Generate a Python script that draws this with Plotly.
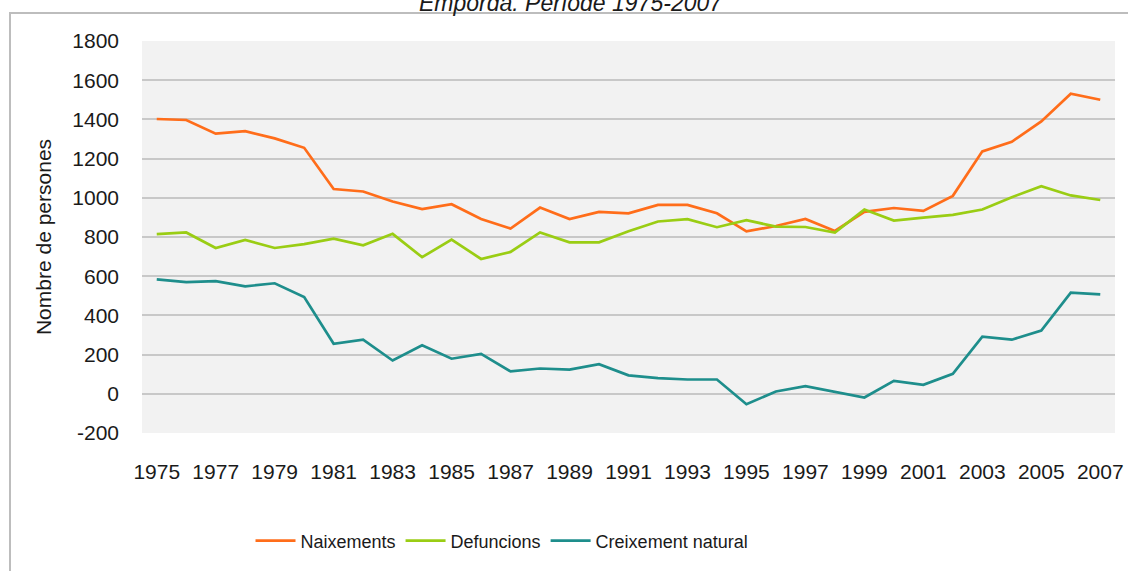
import plotly.graph_objects as go

years = list(range(1975, 2008))
naixements = [1402, 1397, 1327, 1340, 1303, 1255, 1045, 1032, 981, 942, 967, 892, 843,
              950, 892, 928, 921, 964, 964, 921, 829, 856, 892,
              831, 928, 948, 933, 1010, 1237, 1286, 1390, 1531, 1500]
defuncions = [815, 823, 744, 785, 744, 764, 792, 758, 816, 697, 787, 688, 724,
              823, 773, 773, 829, 879, 891, 850, 886, 853, 851,
              823, 940, 884, 899, 913, 940, 1003, 1059, 1012, 989]
creixement = [584, 570, 575, 548, 564, 494, 255, 276, 170, 248, 179, 204, 114,
              129, 123, 151, 94, 80, 73, 73, -53, 12, 39,
              10, -19, 66, 46, 102, 291, 276, 323, 516, 507]
x_ticks = list(range(1975, 2008, 2))
y_ticks = [-200, 0, 200, 400, 600, 800, 1000, 1200, 1400, 1600, 1800]
y_ticklabels = ["-200", "0", "200", "400", "600", "800", "1000", "1200", "1400", "1600", "1800"]
series_names = ["Naixements", "Defuncions", "Creixement natural"]
colors = ["#FF6D1A", "#9ACD14", "#1E8E8C"]

FONT = "Liberation Sans, Arial, sans-serif"

fig = go.Figure()
for name, vals, col in zip(series_names, [naixements, defuncions, creixement], colors):
    fig.add_trace(go.Scatter(x=years, y=vals, mode="lines", name=name,
                             line=dict(color=col, width=2.7)))

fig.update_layout(
    width=1128, height=571,
    margin=dict(l=142, r=13, t=41, b=138, autoexpand=False),
    paper_bgcolor="white",
    plot_bgcolor="#F2F2F2",
    font=dict(family=FONT, color="#1A1A1A", size=20),
    showlegend=True,
    legend=dict(orientation="h", x=0.37, xanchor="center", y=-0.2755, yanchor="middle",
                font=dict(size=18, family=FONT, color="#1A1A1A"),
                bgcolor="rgba(0,0,0,0)", itemwidth=40),
    xaxis=dict(range=[1974.5, 2007.5], tickvals=x_ticks, showgrid=False, zeroline=False,
               showline=False, ticks="", ticklabelstandoff=24, automargin=False,
               tickfont=dict(size=21, family=FONT, color="#1A1A1A")),
    yaxis=dict(range=[-200, 1800], tickvals=y_ticks, ticktext=y_ticklabels,
               showgrid=True, gridcolor="#C8C8C8",
               gridwidth=1.5, zeroline=False, showline=False, ticks="",
               ticklabelstandoff=22, automargin=False,
               tickfont=dict(size=21, family=FONT, color="#1A1A1A"),
               title=dict(text="Nombre de persones", standoff=14,
                          font=dict(size=21, family=FONT, color="#1A1A1A"))),
    annotations=[dict(text="<i>Empordà. Període 1975-2007</i>", xref="paper", yref="paper",
                      x=(571 - 142) / 973, y=(433 - 18) / 392, xanchor="center",
                      yanchor="bottom", showarrow=False,
                      font=dict(size=23, family=FONT, color="#1A1A1A"))],
    shapes=[dict(type="rect", xref="paper", yref="paper",
                 x0=(10 - 142) / 973, x1=1.2, y0=-0.6, y1=(433 - 13) / 392,
                 line=dict(color="#BDBDBD", width=2), fillcolor="rgba(0,0,0,0)",
                 layer="below")],
)

fig.write_html("out.html", config={"displayModeBar": False},
               post_script="document.body.style.margin='0';")
